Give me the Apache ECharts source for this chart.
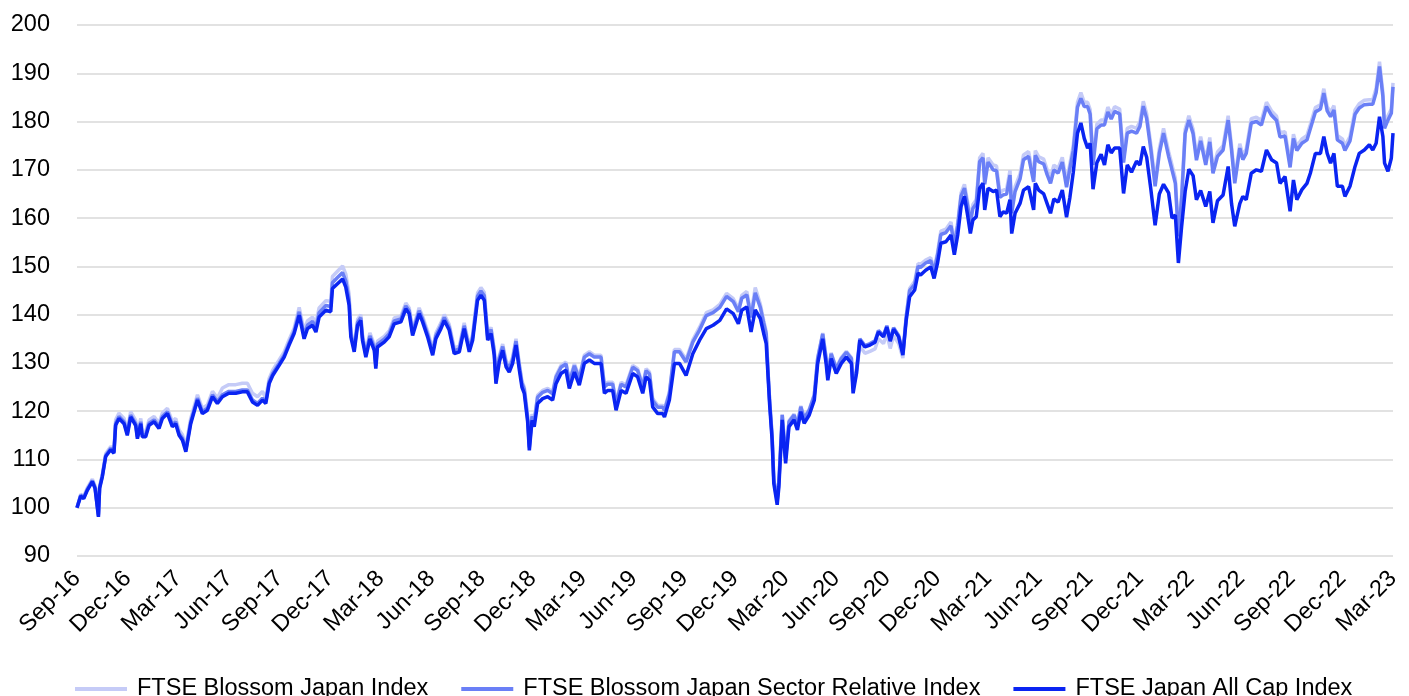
<!DOCTYPE html>
<html>
<head>
<meta charset="utf-8">
<script src="https://cdn.jsdelivr.net/npm/echarts@6/dist/echarts.min.js"></script>
<style>html,body{margin:0;padding:0;background:#fff;}#c{width:1409px;height:696px;}</style>
</head>
<body>
<div id="c"></div>
<script>
// x positions: months elapsed since end of Sep-2016
const months = [
0,0.22,0.4,0.61,0.91,1.07,1.27,1.34,1.5,1.7,2.0,2.19,
2.29,2.49,2.79,2.98,3.18,3.48,3.58,3.78,3.87,4.07,4.27,4.57,4.86,5.06,5.36,5.65,5.85,6.05,6.25,6.45,6.74,7.14,7.43,7.73,8.03,8.32,8.62,9.0,9.41,9.8,10.1,10.4,10.7,10.99,11.19,11.39,11.6,11.98,12.28,12.57,12.87,
13.17,13.46,13.66,13.96,14.16,14.35,14.75,15.04,15.14,15.44,15.74,15.93,16.13,
16.23,16.43,16.63,16.82,16.92,17.12,17.36,17.62,17.71,17.81,18.21,18.5,18.8,19.2,19.49,19.69,19.89,20.28,20.48,20.78,21.08,21.27,21.57,21.77,22.06,22.36,22.66,22.95,23.25,23.45,23.74,23.94,24.14,
24.34,24.54,24.73,24.83,25.03,25.23,25.43,25.62,25.82,26.02,26.22,26.37,26.51,26.71,26.81,26.97,27.1,
27.3,27.6,27.9,28.19,28.39,28.69,28.98,29.18,29.48,29.77,30.07,30.37,30.66,31.06,31.26,31.45,31.75,31.95,32.25,32.54,32.94,33.23,33.53,33.73,33.93,34.12,34.42,34.72,34.82,35.11,
35.41,35.71,36.1,36.5,36.9,37.3,37.7,38.1,38.5,38.9,39.2,39.4,39.7,39.95,40.2,40.5,40.7,40.85,
40.95,41.05,41.2,41.3,41.5,41.6,41.8,42.0,42.2,42.5,42.7,42.9,43.1,43.4,43.7,43.9,44.2,44.4,44.5,44.7,45.0,45.3,45.6,45.9,46.0,46.2,46.4,46.7,47.0,47.3,47.5,47.8,48.0,48.2,48.4,48.7,
48.95,49.15,49.35,49.65,49.85,50.0,50.3,50.6,50.8,51.0,51.2,51.5,51.8,52.0,52.2,52.4,52.6,52.8,52.95,53.1,53.3,
53.5,53.7,53.8,54.0,54.3,54.5,54.7,54.9,55.1,55.3,55.4,55.6,55.9,56.1,56.4,56.7,56.8,57.0,57.3,57.5,57.7,57.9,58.15,58.4,58.65,58.85,
59.05,59.3,59.5,59.7,59.9,60.05,60.22,60.45,60.7,60.9,61.1,61.3,61.5,61.8,62.03,62.25,62.5,62.8,63.0,63.2,63.4,63.65,63.9,64.15,64.4,64.7,64.9,65.1,65.28,65.47,
65.68,65.9,66.15,66.35,66.6,66.9,67.14,67.33,67.6,67.93,68.23,68.43,68.62,68.92,69.1,69.3,69.6,69.9,70.2,70.5,70.8,71.1,71.3,71.6,71.9,72.1,72.3,72.6,72.9,73.1,73.4,73.7,73.9,74.1,74.3,74.5,74.7,75.0,75.15,75.45,75.75,76.0,76.3,76.6,76.8,77.0,77.2,77.4,77.5,77.7,77.9,78.0
];

const allCap = [
100.0,102.4,101.9,103.6,105.4,104.0,98.1,104.0,106.4,110.6,112.0,111.3,
117.1,118.5,117.4,115.0,118.8,117.0,114.3,117.4,114.7,114.7,117.1,117.8,116.4,118.5,119.5,116.8,117.4,115.0,114.0,111.6,117.4,122.3,119.5,120.2,123.0,121.6,123.0,123.7,123.7,124.0,124.0,121.9,121.2,122.3,121.6,125.7,127.4,129.5,131.2,133.7,136.1,
139.9,135.0,137.1,137.8,136.4,139.5,140.9,140.6,145.4,146.4,147.4,145.7,141.9,
135.4,132.3,137.8,138.8,134.7,131.2,135.0,132.6,128.8,133.3,134.3,135.4,138.1,138.5,141.2,140.2,135.7,140.2,138.5,135.4,131.6,135.0,137.1,138.8,136.8,131.9,132.3,137.1,132.3,134.7,143.0,144.0,143.0,
134.7,136.1,131.6,125.7,130.2,132.6,129.2,128.1,129.9,133.7,128.5,125.0,123.7,117.8,111.9,118.1,116.8,
121.6,122.6,123.0,122.3,125.7,127.8,128.5,124.7,128.1,125.4,129.9,130.6,129.9,129.9,123.7,124.3,124.3,120.2,124.3,123.7,127.8,127.1,123.7,127.1,126.4,120.9,119.5,119.5,118.8,122.3,
129.9,129.9,127.4,131.9,134.7,137.1,137.8,138.8,141.2,140.2,138.1,140.9,141.6,136.4,141.0,139.2,136.1,134.0,
127.8,121.5,114.0,105.0,100.6,104.3,118.2,109.2,116.8,118.2,116.1,119.9,117.5,119.2,122.3,129.9,135.0,129.9,126.4,130.9,127.8,129.9,131.2,129.9,123.7,127.8,134.7,133.3,133.7,134.3,136.4,135.4,137.4,134.5,137.0,135.4,
131.6,138.9,143.7,145.1,148.6,148.2,149.2,149.9,147.5,150.6,154.8,155.1,156.5,152.4,156.5,162.4,164.5,160.3,156.8,159.6,160.3,
166.2,167.2,161.7,166.2,165.5,165.8,160.3,161.3,161.0,163.8,156.8,161.0,163.1,165.8,166.5,161.7,167.2,165.8,165.0,163.0,161.0,164.0,163.3,165.8,160.2,164.3,
169.5,177.6,179.7,176.5,174.5,175.5,166.0,171.5,173.2,171.0,175.2,173.5,174.5,174.5,165.1,171.0,169.5,171.8,171.0,174.8,172.6,165.9,158.5,165.0,167.0,165.2,160.0,160.6,150.7,158.2,
165.5,170.1,168.8,163.8,165.7,162.4,165.5,159.0,163.6,164.8,170.7,163.0,158.3,163.0,164.5,163.8,169.3,170.0,169.7,174.1,172.1,171.4,167.2,168.6,161.4,167.9,163.8,165.9,167.2,169.3,173.4,173.4,176.9,173.4,171.4,173.4,166.6,166.6,164.5,166.6,170.7,173.4,174.1,175.2,174.1,175.5,181.0,176.9,171.4,169.7,172.4,177.6
];

const sectorRelative = [
100.0,102.6,102.1,103.8,105.6,104.2,98.4,104.2,106.6,110.8,112.3,111.6,
117.5,118.9,117.8,115.4,119.2,117.4,114.7,117.8,115.1,115.1,117.5,118.2,116.8,118.9,119.9,117.2,117.8,115.4,114.4,112.0,117.8,122.7,119.9,120.6,123.4,122.0,123.4,124.1,124.1,124.4,124.4,122.3,121.6,122.7,122.0,126.1,127.8,129.9,131.6,134.1,136.5,
140.6,135.7,137.8,138.6,137.2,140.4,141.9,141.7,146.6,147.7,148.7,147.0,143.0,
136.0,132.9,138.4,139.4,135.3,131.8,135.6,133.2,129.4,133.9,134.9,136.0,138.7,139.1,141.8,140.8,136.3,140.8,139.1,136.0,132.2,135.6,137.7,139.4,137.4,132.5,132.9,137.7,132.9,135.3,143.8,144.9,143.9,
135.5,136.9,132.4,126.5,131.0,133.4,130.0,128.9,130.7,134.5,129.3,125.8,124.5,118.6,112.5,118.9,117.7,
122.9,123.9,124.3,123.6,127.0,129.1,129.8,126.0,129.4,126.7,131.2,131.9,131.2,131.2,125.0,125.6,125.6,121.5,125.6,125.0,129.1,128.4,125.0,128.4,127.7,122.2,120.8,120.8,120.1,123.6,
132.3,132.3,130.2,134.3,136.8,139.8,140.4,141.5,143.8,142.7,140.6,143.4,144.1,139.4,144.5,141.5,138.3,136.0,
128.6,122.3,114.8,105.8,101.4,105.2,119.2,110.2,117.8,119.2,117.1,120.9,118.5,120.2,123.3,130.9,136.0,130.9,127.4,131.9,128.8,130.9,132.2,130.9,124.7,128.6,135.0,133.6,134.0,134.6,136.7,135.7,137.7,134.8,137.3,135.7,
132.0,139.6,145.0,146.3,150.0,149.8,150.7,151.2,149.0,152.2,156.6,157.0,158.4,154.4,158.4,164.6,166.2,162.3,159.0,162.0,163.0,
171.7,172.5,167.0,171.6,170.0,169.8,164.3,164.8,165.0,168.9,161.0,165.5,168.2,172.1,172.8,167.5,173.0,171.7,171.2,169.0,167.2,170.0,169.3,171.6,166.4,170.3,
174.0,183.0,184.8,183.1,183.1,181.5,171.0,178.5,179.3,179.3,182.0,180.5,182.1,181.6,171.5,177.6,178.0,177.6,179.0,183.2,180.6,174.1,166.6,173.4,177.6,172.8,170.0,167.2,156.2,163.8,
177.5,180.3,177.5,172.0,176.0,171.0,175.8,169.3,172.8,174.1,180.3,174.1,167.2,174.5,172.1,173.4,179.7,180.0,179.3,183.1,181.3,180.2,176.8,177.0,170.5,176.5,174.0,175.5,176.2,178.5,182.0,182.6,185.9,182.2,181.0,182.4,176.2,175.5,174.0,176.0,181.5,182.8,183.5,183.6,183.6,186.0,191.4,185.2,178.6,180.3,181.7,187.2
];

const blossom = [
100.0,102.8,102.4,104.1,105.9,104.5,98.7,104.5,106.9,111.2,112.7,112.0,
118.2,119.6,118.5,116.1,119.9,118.1,115.4,118.5,115.8,115.8,118.2,118.9,117.5,119.6,120.6,117.9,118.5,116.1,115.1,112.7,118.5,123.4,120.6,121.3,124.1,122.7,124.8,125.5,125.5,125.8,125.8,123.7,123.0,124.1,122.7,126.8,128.5,130.6,132.3,134.8,137.2,
141.5,136.6,138.7,139.5,138.2,141.4,142.9,142.8,147.9,149.0,150.1,148.4,144.2,
136.6,133.5,139.0,140.0,135.9,132.4,136.2,133.8,130.0,134.5,135.5,136.6,139.3,139.7,142.4,141.4,136.9,141.4,139.7,136.6,132.8,136.2,138.3,140.0,138.0,133.1,133.5,138.3,133.5,135.9,144.5,145.6,144.6,
136.0,137.4,132.9,127.0,131.5,133.9,130.5,129.4,131.2,135.0,129.8,126.3,125.0,119.1,112.9,119.4,118.2,
123.3,124.3,124.7,124.0,127.4,129.5,130.2,126.4,129.8,127.1,131.6,132.3,131.6,131.6,125.4,126.0,126.0,121.9,126.0,125.4,129.5,128.8,125.4,128.8,128.1,122.6,121.2,121.2,120.5,124.0,
132.8,132.8,130.7,134.8,137.4,140.4,141.0,142.1,144.4,143.3,141.2,144.0,144.8,140.2,145.6,142.2,138.8,136.5,
128.8,122.5,115.0,106.0,101.6,105.5,119.4,110.4,118.0,119.4,117.3,121.1,118.7,120.4,123.5,131.1,136.2,131.1,127.6,132.1,129.0,131.1,132.4,131.1,124.9,127.8,133.5,132.0,132.4,132.9,135.0,134.0,136.0,133.0,135.6,134.0,
131.0,139.8,145.4,146.9,150.6,150.4,151.3,151.8,149.6,152.8,157.3,157.7,159.2,155.2,159.1,165.2,167.0,163.1,159.7,162.8,163.8,
172.5,173.4,167.9,172.5,171.0,170.8,165.3,165.8,166.0,169.9,162.0,166.5,169.2,173.1,173.8,168.5,174.0,172.7,172.2,170.0,168.2,171.0,170.3,172.6,167.4,171.3,
175.0,184.0,186.0,184.0,184.0,182.5,172.0,179.5,180.3,180.3,183.0,181.5,183.1,182.6,172.5,178.6,179.0,178.6,180.0,184.2,181.6,175.1,167.6,174.4,178.6,173.8,171.0,168.2,157.2,164.8,
178.4,181.2,178.4,172.9,176.9,171.9,176.7,170.2,173.7,175.0,181.2,175.0,168.1,175.4,173.0,174.3,180.6,180.9,180.2,184.0,182.2,181.1,177.7,177.9,171.4,177.4,174.9,176.4,177.1,179.4,182.9,183.5,186.8,183.1,181.9,183.3,177.1,176.4,174.9,176.9,182.4,183.7,184.4,184.5,184.5,186.9,192.4,186.1,179.5,181.2,182.6,188.0
];

const tickLabels = ["Sep-16","Dec-16","Mar-17","Jun-17","Sep-17","Dec-17","Mar-18","Jun-18","Sep-18","Dec-18","Mar-19","Jun-19","Sep-19","Dec-19","Mar-20","Jun-20","Sep-20","Dec-20","Mar-21","Jun-21","Sep-21","Dec-21","Mar-22","Jun-22","Sep-22","Dec-22","Mar-23"];

const seriesNames = ["FTSE Blossom Japan Index","FTSE Blossom Japan Sector Relative Index","FTSE Japan All Cap Index"];
const seriesColors = ["#c5cbf7","#6a7ff6","#0a24f2"];

function pairs(vals){
  const n = Math.min(months.length, vals.length);
  const out = [];
  for (let i = 0; i < n; i++) out.push([months[i], vals[i]]);
  return out;
}

const FONT = "'Liberation Sans', Arial, sans-serif";
const chart = echarts.init(document.getElementById('c'), null, {renderer:'canvas'});
const valuesList = [blossom, sectorRelative, allCap];

chart.setOption({
  animation: false,
  backgroundColor: '#ffffff',
  textStyle: {fontFamily: FONT},
  grid: {left: 77, right: 16, top: 25, bottom: 140, containLabel: false, outerBoundsMode: 'none'},
  legend: {
    data: seriesNames,
    left: 70,
    top: 672,
    icon: 'rect',
    itemWidth: 52,
    itemHeight: 4,
    itemGap: 33,
    textStyle: {fontSize: 23.5, color: '#000', fontFamily: FONT, padding: [0,0,0,5], lineHeight: 24}
  },
  xAxis: {
    type: 'value',
    min: 0, max: 78, interval: 3,
    axisLine: {show: false},
    axisTick: {show: false},
    splitLine: {show: false},
    axisLabel: {
      rotate: 45, margin: 19, fontSize: 23.5, color: '#000', fontFamily: FONT,
      showMinLabel: true, showMaxLabel: true,
      formatter: function(v){ return tickLabels[Math.round(v/3)] || ''; }
    }
  },
  yAxis: {
    type: 'value',
    min: 90, max: 200, interval: 10,
    axisLine: {show: false},
    axisTick: {show: false},
    splitLine: {show: true, lineStyle: {color: '#d9d9d9', width: 1.5}},
    axisLabel: {margin: 27, fontSize: 23.5, color: '#000', fontFamily: FONT}
  },
  series: seriesNames.map(function(name, k){
    return {
      name: name,
      type: 'line',
      data: pairs(valuesList[k]),
      showSymbol: false,
      symbol: 'none',
      lineStyle: {color: seriesColors[k], width: 3.5},
      itemStyle: {color: seriesColors[k]},
      z: 2 + k
    };
  })
});
</script>
</body>
</html>
